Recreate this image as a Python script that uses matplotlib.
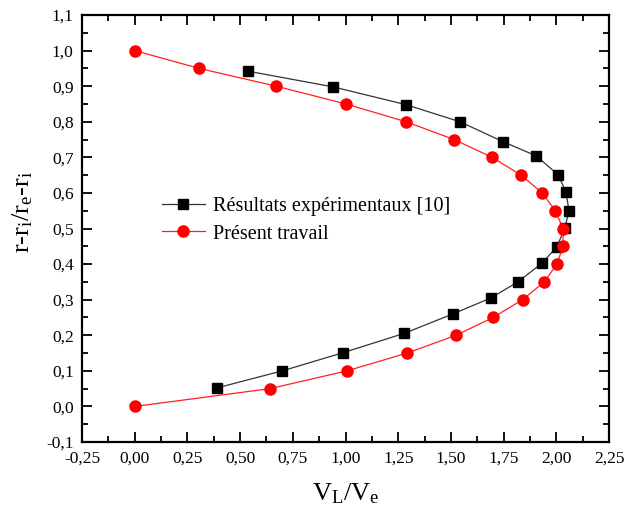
import matplotlib
matplotlib.use("Agg")
import matplotlib.pyplot as plt
from matplotlib.ticker import MultipleLocator, FuncFormatter

plt.rcParams['font.family'] = ['Liberation Serif', 'DejaVu Serif']
plt.rcParams['mathtext.fontset'] = 'custom'
plt.rcParams['mathtext.rm'] = 'Liberation Serif'
plt.rcParams['mathtext.it'] = 'Liberation Serif'

# --- données ---
# Résultats expérimentaux [10]
exp_x = [0.39, 0.70, 0.988, 1.277, 1.510, 1.69, 1.818, 1.933, 2.003, 2.041,
         2.060, 2.046, 2.008, 1.905, 1.747, 1.543, 1.287, 0.941, 0.538]
exp_y = [0.052, 0.100, 0.151, 0.205, 0.260, 0.305, 0.350, 0.403, 0.449, 0.502,
         0.550, 0.603, 0.651, 0.704, 0.744, 0.800, 0.848, 0.898, 0.942]

# Présent travail
pt_x = [0.0, 0.642, 1.007, 1.292, 1.525, 1.70, 1.84, 1.943, 2.003, 2.032, 2.032,
        1.995, 1.933, 1.833, 1.695, 1.515, 1.287, 1.002, 0.671, 0.305, 0.0]
pt_y = [0.0, 0.05, 0.10, 0.15, 0.20, 0.25, 0.30, 0.35, 0.40, 0.45, 0.50,
        0.55, 0.60, 0.65, 0.70, 0.75, 0.80, 0.85, 0.90, 0.95, 1.0]

fig = plt.figure(figsize=(6.27, 5.15), dpi=100)
ax = fig.add_axes([0.1308, 0.1417, 0.8405, 0.8292])

ax.plot(exp_x, exp_y, color='#333333', linewidth=0.9, marker='s', markersize=7,
        markerfacecolor='black', markeredgecolor='black',
        label='Résultats expérimentaux [10]')
ax.plot(pt_x, pt_y, color='#ff2020', linewidth=0.9, marker='o', markersize=8,
        markerfacecolor='red', markeredgecolor='red',
        label='Présent travail')

ax.set_xlim(-0.25, 2.25)
ax.set_ylim(-0.1, 1.1)

ax.xaxis.set_major_locator(MultipleLocator(0.25))
ax.xaxis.set_minor_locator(MultipleLocator(0.125))
ax.yaxis.set_major_locator(MultipleLocator(0.1))
ax.yaxis.set_minor_locator(MultipleLocator(0.05))
ax.xaxis.set_major_formatter(FuncFormatter(lambda v, p: f'{v:.2f}'.replace('.', ',')))
ax.yaxis.set_major_formatter(FuncFormatter(lambda v, p: f'{v:.1f}'.replace('.', ',')))

ax.tick_params(which='both', direction='in', top=True, right=True, width=1.3,
               labelsize=12.5, pad=6)
ax.tick_params(which='major', length=7)
ax.tick_params(which='minor', length=4)
for s in ax.spines.values():
    s.set_linewidth(1.6)

ax.set_xlabel(r'$\mathrm{V_L/V_e}$', fontsize=19, labelpad=11)
ax.set_ylabel(r'$\mathrm{r\text{-}r_i/r_e\text{-}r_i}$', fontsize=19)
ax.yaxis.set_label_coords(-0.09, 0.539)

ax.legend(loc='upper left', bbox_to_anchor=(0.137, 0.592), frameon=False,
          fontsize=14.5, handlelength=2.1, handletextpad=0.4, labelspacing=0.4,
          borderaxespad=0)

fig.savefig('out.png', dpi=100)
